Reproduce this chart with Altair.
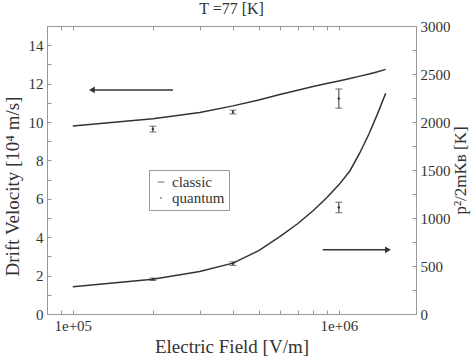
import altair as alt
import pandas as pd

# Classic (semiclassical) results sampled along the field
field_classic = [1e5, 2e5, 3e5, 4e5, 5e5, 6e5, 7e5, 8e5, 9e5, 1e6, 1.1e6, 1.2e6, 1.3e6, 1.4e6, 1.5e6]
vel_classic = [9.79, 10.17, 10.49, 10.84, 11.15, 11.43, 11.65, 11.85, 12.0, 12.14, 12.27, 12.39, 12.5, 12.62, 12.74]
energy_classic = [285, 362, 442, 530, 660, 805, 940, 1075, 1210, 1345, 1490, 1680, 1880, 2090, 2300]

# Quantum results with error bars
field_quantum = [2e5, 4e5, 1e6]
vel_quantum = [9.63, 10.52, 11.22]
vel_quantum_err = [0.15, 0.1, 0.5]
energy_quantum = [362, 525, 1110]
energy_quantum_err = [12, 18, 55]

# Arrows pointing to the axis each curve belongs to
arrow_left_field = [2.38e5, 1.18e5]
arrow_left_vel = [11.67, 11.67]
arrow_right_field = [8.7e5, 1.53e6]
arrow_right_energy = [668, 668]

legend_labels = ["classic", "quantum"]

FONT = "Liberation Serif"
INK = "#333333"
DOT = "M-0.12,0A0.12,0.12 0 1,1 0.12,0A0.12,0.12 0 1,1 -0.12,0Z"
DASH = "M-0.5,-0.05H0.5V0.05H-0.5Z"

classic = pd.DataFrame({"field": field_classic, "vel": vel_classic, "energy": energy_classic})
quantum = pd.DataFrame({
    "field": field_quantum,
    "vel": vel_quantum,
    "vel_lo": [v - e for v, e in zip(vel_quantum, vel_quantum_err)],
    "vel_hi": [v + e for v, e in zip(vel_quantum, vel_quantum_err)],
    "energy": energy_quantum,
    "en_lo": [v - e for v, e in zip(energy_quantum, energy_quantum_err)],
    "en_hi": [v + e for v, e in zip(energy_quantum, energy_quantum_err)],
    "kind": ["quantum"] * 3,
})
arrow_l = pd.DataFrame({"field": arrow_left_field, "vel": arrow_left_vel, "order": [0, 1]})
arrow_r = pd.DataFrame({"field": arrow_right_field, "energy": arrow_right_energy, "order": [0, 1]})

x_scale = alt.Scale(type="log", domain=[8e4, 1.95e6], nice=False)
x_ticks = [9e4, 1e5, 2e5, 3e5, 4e5, 5e5, 6e5, 7e5, 8e5, 9e5, 1e6]
x_bottom = alt.Axis(
    values=x_ticks, orient="bottom", title="Electric Field [V/m]",
    labelExpr="datum.value == 100000 ? '1e+05' : (datum.value == 1000000 ? '1e+06' : '')",
    tickSize={"expr": "-4"}, labelPadding=8, titlePadding=4, grid=False,
)
x_top = alt.Axis(values=x_ticks, orient="top", title=None, labels=False,
                 tickSize={"expr": "-4"}, grid=False)

left_scale = alt.Scale(domain=[0, 15], nice=False)
left_axis = alt.Axis(
    values=list(range(0, 16)), orient="left",
    labelExpr="datum.value % 2 == 0 ? datum.label : ''",
    tickSize={"expr": "-4"}, labelPadding=8, titlePadding=6, grid=False,
    titleY=160,
)
left_title = "Drift Velocity [10\u2074 m/s]"

right_scale = alt.Scale(domain=[0, 3000], nice=False)
right_axis = alt.Axis(
    values=list(range(0, 3001, 250)), orient="right", format="d",
    labelExpr="datum.value % 500 == 0 ? datum.label : ''",
    tickSize={"expr": "-4"}, labelPadding=8, titlePadding=2, grid=False,
    titleAngle=270, titleBaseline="top", titleFontSize=17,
)
right_title = "p\u00b2/2mK\u0299 [K]"


def xb(f="field"):
    return alt.X(f + ":Q", scale=x_scale, axis=x_bottom)


def xt(f="field"):
    return alt.X(f + ":Q", scale=x_scale, axis=x_top)


def yl(f):
    return alt.Y(f + ":Q", scale=left_scale, axis=left_axis, title=left_title)


def yr(f):
    return alt.Y(f + ":Q", scale=right_scale, axis=right_axis, title=right_title)


def caps(f_x, f_y, col):
    return alt.Chart(quantum).mark_tick(color=INK, orient="horizontal", size=7, thickness=1).encode(
        x=f_x(), y=f_y(col))


# Left axis: drift velocity
vel_line = alt.Chart(classic).mark_line(color=INK, strokeWidth=1.5).encode(x=xb(), y=yl("vel"))
vel_err = alt.Chart(quantum).mark_rule(color=INK, strokeWidth=1).encode(x=xb(), y=yl("vel_lo"), y2="vel_hi")
vel_pts = alt.Chart(quantum).mark_point(filled=True, color=INK, stroke=INK, strokeWidth=1,
                                        opacity=1, size=200).encode(
    x=xb(), y=yl("vel"), shape=alt.value(DOT))
arr_l_line = alt.Chart(arrow_l).mark_line(color=INK, strokeWidth=1.5).encode(x=xb(), y=yl("vel"), order="order:Q")
arr_l_head = alt.Chart(arrow_l[arrow_l["order"] == 1]).mark_point(
    shape="triangle-left", filled=True, color=INK, opacity=1, size=45).encode(x=xb(), y=yl("vel"))

left = alt.layer(vel_line, vel_err, caps(xb, yl, "vel_lo"), caps(xb, yl, "vel_hi"),
                 vel_pts, arr_l_line, arr_l_head)

# Right axis: mean kinetic energy in kelvin
en_line = alt.Chart(classic).mark_line(color=INK, strokeWidth=1.5).encode(x=xt(), y=yr("energy"))
en_err = alt.Chart(quantum).mark_rule(color=INK, strokeWidth=1).encode(x=xt(), y=yr("en_lo"), y2="en_hi")
en_pts = alt.Chart(quantum).mark_point(filled=True, color=INK, stroke=INK, strokeWidth=1,
                                       opacity=1, size=200).encode(
    x=xt(), y=yr("energy"),
    shape=alt.Shape(
        "kind:N",
        scale=alt.Scale(domain=legend_labels, range=[DASH, DOT]),
        legend=alt.Legend(
            title=None, orient="none", legendX=102, legendY=144,
            strokeColor="#999999", padding=4, rowPadding=0,
            labelFont=FONT, labelFontSize=15, labelColor=INK, labelOffset=3,
            symbolSize=200, symbolStrokeColor=INK, symbolFillColor=INK,
            symbolStrokeWidth=1,
        ),
    ),
)
arr_r_line = alt.Chart(arrow_r).mark_line(color=INK, strokeWidth=1.5).encode(x=xt(), y=yr("energy"), order="order:Q")
arr_r_head = alt.Chart(arrow_r[arrow_r["order"] == 1]).mark_point(
    shape="triangle-right", filled=True, color=INK, opacity=1, size=45).encode(x=xt(), y=yr("energy"))

right = alt.layer(en_line, en_err, caps(xt, yr, "en_lo"), caps(xt, yr, "en_hi"),
                  en_pts, arr_r_line, arr_r_head)

chart = (
    alt.layer(left, right)
    .resolve_scale(y="independent")
    .resolve_axis(x="independent", y="independent")
    .properties(
        width=369, height=288,
        background="white",
        autosize=alt.AutoSizeParams(type="none"),
        padding={"left": 47, "top": 26, "right": 55, "bottom": 42},
        title=alt.TitleParams("T =77 [K]", font=FONT, fontSize=16, fontWeight="normal",
                              color=INK, offset=-14, anchor="middle", baseline="bottom"),
    )
    .configure_view(stroke=None)
    .configure_axis(
        domainColor="#999999", tickColor="#999999", labelColor=INK, titleColor=INK,
        labelFont=FONT, titleFont=FONT, labelFontSize=15, titleFontSize=19,
        titleFontWeight="normal",
    )
)

chart.save("out.html", embed_options={"renderer": "svg", "actions": False})
